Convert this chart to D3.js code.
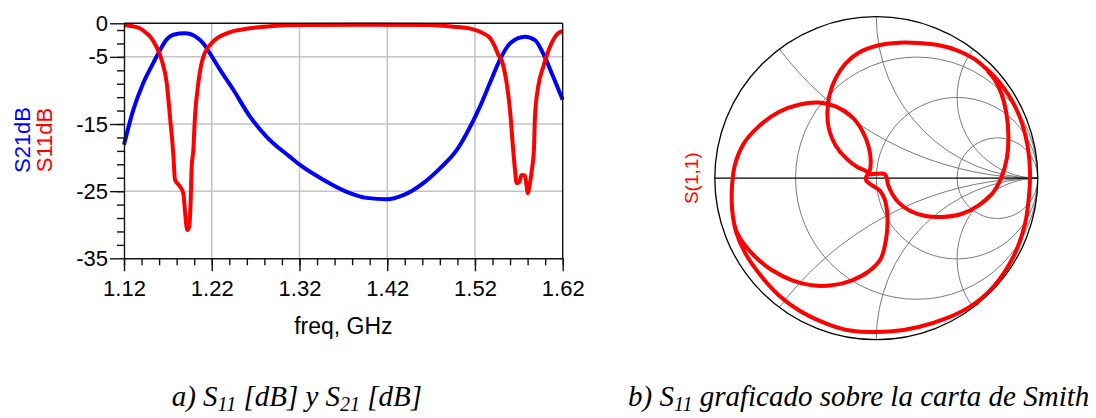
<!DOCTYPE html>
<html lang="es">
<head>
<meta charset="utf-8">
<title>S11 y S21</title>
<style>
  body { margin: 0; background: #fff; }
  svg { display: block; font-family: "Liberation Sans", Arial, sans-serif; }
  .axis text { font-size: 22px; fill: #000; font-family: "Liberation Sans", Arial, sans-serif; }
  .axis path, .axis line { stroke: #111; stroke-width: 1.4; }
  .grid line { stroke: #c4c4c4; stroke-width: 1.5; }
  .caption { font-family: "Liberation Serif", "Times New Roman", serif; font-style: italic; font-size: 29px; fill: #000; }
</style>
</head>
<body>
<svg width="1096" height="418"></svg>
<script src="https://d3js.org/d3.v7.min.js"></script>
<script>
// ---- data ----
var freqTicks = [1.12, 1.22, 1.32, 1.42, 1.52, 1.62];
var dbTicks = [0, -5, -15, -25, -35];

var s11Freq = [1.120, 1.130, 1.138, 1.145, 1.150, 1.157, 1.163, 1.1687, 1.1724, 1.1762,
               1.1781, 1.1838, 1.1876, 1.1894, 1.1921, 1.1944, 1.1960, 1.1971, 1.1990, 1.2009,
               1.2047, 1.2104, 1.2218, 1.2371, 1.2636, 1.290, 1.3206, 1.400, 1.4687, 1.4953,
               1.5181, 1.5295, 1.5371, 1.5428, 1.5466, 1.5504, 1.5561, 1.5599, 1.5636, 1.5656,
               1.5675, 1.5705, 1.5732, 1.5770, 1.5789, 1.5800, 1.5827, 1.5853, 1.5872, 1.5884,
               1.5921, 1.5978, 1.6055, 1.6131, 1.620];
var s11Db   = [-0.25, -0.45, -0.75, -1.4, -2.0, -3.5, -5.5, -8.9, -13.9, -19.5,
               -23.3, -24.3, -25.3, -27.8, -30.8, -30.3, -26.3, -21.5, -18.9, -13.9,
               -8.9, -5.0, -2.7, -1.5, -0.75, -0.4, -0.25, -0.2, -0.25, -0.5,
               -0.9, -1.5, -2.2, -3.5, -4.7, -5.5, -8.9, -12.9, -18.9, -21.8,
               -23.8, -23.6, -22.6, -22.7, -24.3, -25.3, -23.8, -21.4, -18.9, -13.9,
               -9.4, -6.5, -3.5, -1.7, -1.15];

var s21Freq = [1.12, 1.1306, 1.142, 1.1534, 1.161, 1.1687, 1.1762, 1.1895, 1.2028, 1.2104,
               1.218, 1.2294, 1.2446, 1.2636, 1.2826, 1.3092, 1.3206, 1.3471, 1.3738, 1.3966,
               1.4194, 1.4383, 1.4611, 1.4801, 1.4991, 1.5105, 1.5257, 1.537, 1.5485, 1.5599,
               1.577, 1.5884, 1.5978, 1.6074, 1.62];
var s21Db   = [-18.1, -12.9, -8.9, -5.9, -4.0, -2.4, -1.7, -1.5, -2.1, -3.0,
               -4.5, -6.9, -9.9, -13.9, -16.9, -19.9, -21.1, -23.3, -25.1, -26.0,
               -26.2, -25.6, -23.8, -21.6, -18.9, -16.4, -12.4, -8.9, -5.4, -3.0,
               -2.0, -2.5, -4.5, -7.4, -11.4];

// S11 on the Smith chart (reflection coefficient, real / imaginary)
var smithRe = [0.688, 0.729, 0.771, 0.804, 0.818, 0.808, 0.771, 0.717, 0.634, 0.531,
               0.407, 0.304, 0.211, 0.139, 0.098, 0.073, 0.065, 0.054, 0.005, -0.047,
               -0.063, -0.121, -0.191, -0.253, -0.294, -0.303, -0.290, -0.253, -0.191, -0.109,
               0.015, 0.139, 0.263, 0.387, 0.500, 0.604, 0.676, 0.727, 0.789, 0.851,
               0.903, 0.938, 0.952, 0.944, 0.919, 0.849, 0.725, 0.581, 0.428, 0.263,
               0.098, -0.047, -0.191, -0.336, -0.480, -0.604, -0.717, -0.810, -0.868, -0.893,
               -0.893, -0.876, -0.821, -0.728, -0.604, -0.480, -0.356, -0.253, -0.160, -0.088,
               -0.047, -0.034, -0.043, -0.063, -0.063, -0.026, 0.021, 0.052, 0.069, 0.061,
               0.026, -0.047, -0.150, -0.274, -0.398, -0.521, -0.645, -0.748, -0.821, -0.868,
               -0.889];
var smithIm = [0.666, 0.616, 0.534, 0.410, 0.265, 0.121, -0.003, -0.096, -0.168, -0.220,
               -0.240, -0.234, -0.203, -0.151, -0.096, -0.040, -0.003, 0.024, 0.028, 0.026,
               0.043, 0.071, 0.127, 0.204, 0.307, 0.410, 0.513, 0.616, 0.709, 0.777,
               0.823, 0.839, 0.837, 0.823, 0.792, 0.740, 0.682, 0.633, 0.559, 0.461,
               0.338, 0.193, 0.038, -0.127, -0.292, -0.486, -0.672, -0.795, -0.870, -0.921,
               -0.948, -0.952, -0.938, -0.890, -0.818, -0.725, -0.601, -0.467, -0.333, -0.189,
               -0.044, 0.080, 0.214, 0.321, 0.410, 0.455, 0.468, 0.445, 0.389, 0.296,
               0.193, 0.100, 0.038, 0.007, -0.013, -0.044, -0.075, -0.131, -0.234, -0.374,
               -0.502, -0.577, -0.632, -0.663, -0.663, -0.632, -0.570, -0.488, -0.405, -0.323,
               -0.230];

// Smith grid: constant resistance circles and constant reactance arcs
var resCircles = [1/3, 1, 3];
var reactArcs = [0.5, 1, 2];

var svg = d3.select("svg");

// ================= a) S11 / S21 in dB =================
var x = d3.scaleLinear().domain([1.12, 1.62]).range([124, 562.7]),
    y = d3.scaleLinear().domain([-35, 0]).range([258.3, 23.3]);

var g = svg.append("g");

var minorFreq = d3.range(0, 26).map(function(i) { return 1.12 + i * 0.02; });
var minorDb = d3.range(0, 17).map(function(i) { return -1 - i * 2; });

// grid
var grid = g.append("g").attr("class", "grid");
grid.selectAll(".gx").data(freqTicks.slice(1, -1)).enter().append("line")
  .attr("x1", function(d) { return x(d); }).attr("x2", function(d) { return x(d); })
  .attr("y1", y(0)).attr("y2", y(-35));
grid.selectAll(".gy").data([-5, -15, -25]).enter().append("line")
  .attr("x1", x(1.12)).attr("x2", x(1.62))
  .attr("y1", function(d) { return y(d); }).attr("y2", function(d) { return y(d); });

var line = d3.line()
  .x(function(d) { return x(d[0]); })
  .y(function(d) { return y(d[1]); })
  .curve(d3.curveMonotoneX);

g.append("path")
  .datum(d3.zip(s21Freq, s21Db))
  .attr("fill", "none").attr("stroke", "#0000ff").attr("stroke-width", 4)
  .attr("stroke-linejoin", "round")
  .attr("d", line);

g.append("path")
  .datum(d3.zip(s11Freq, s11Db))
  .attr("fill", "none").attr("stroke", "#ff0000").attr("stroke-width", 4)
  .attr("stroke-linejoin", "round")
  .attr("d", line);

// frame
g.append("line").attr("x1", x(1.12)).attr("x2", x(1.62)).attr("y1", y(0)).attr("y2", y(0))
  .attr("stroke", "#111").attr("stroke-width", 1.4);
g.append("line").attr("x1", x(1.62)).attr("x2", x(1.62)).attr("y1", y(0)).attr("y2", y(-35))
  .attr("stroke", "#111").attr("stroke-width", 1.4);

// axes
g.append("g").attr("class", "axis")
  .attr("transform", "translate(" + x(1.12) + ",0)")
  .call(d3.axisLeft(y).tickValues(minorDb).tickSize(7).tickFormat(""))
  .call(function(a) { a.select(".domain").remove(); });
g.append("g").attr("class", "axis")
  .attr("transform", "translate(" + x(1.12) + ",0)")
  .call(d3.axisLeft(y).tickValues(dbTicks).tickSize(14).tickSizeOuter(0).tickPadding(2)
    .tickFormat(function(d) { return String(d); }));

g.append("g").attr("class", "axis")
  .attr("transform", "translate(0," + y(-35) + ")")
  .call(d3.axisBottom(x).tickValues(minorFreq).tickSize(7).tickFormat(""))
  .call(function(a) { a.select(".domain").remove(); });
g.append("g").attr("class", "axis")
  .attr("transform", "translate(0," + y(-35) + ")")
  .call(d3.axisBottom(x).tickValues(freqTicks).tickSize(13).tickSizeOuter(0).tickPadding(8.7)
    .tickFormat(d3.format(".2f")));

g.append("text")
  .attr("x", (x(1.12) + x(1.62)) / 2).attr("y", 334)
  .attr("text-anchor", "middle").style("font-size", "23px")
  .text("freq, GHz");

g.append("text")
  .attr("transform", "translate(29.5,140) rotate(-90)")
  .attr("text-anchor", "middle").style("font-size", "22px").attr("fill", "#0000ff")
  .text("S21dB");
g.append("text")
  .attr("transform", "translate(52,140) rotate(-90)")
  .attr("text-anchor", "middle").style("font-size", "22px").attr("fill", "#ff0000")
  .text("S11dB");

// ================= b) Smith chart =================
var cx = 876.3, cy = 178.2, R = 161.5;
var sx = d3.scaleLinear().domain([-1, 1]).range([cx - R, cx + R]),
    sy = d3.scaleLinear().domain([-1, 1]).range([cy + R, cy - R]);

var sg = svg.append("g");
sg.append("clipPath").attr("id", "unit")
  .append("circle").attr("cx", sx(0)).attr("cy", sy(0)).attr("r", sx(1) - sx(0));

var sgrid = sg.append("g").attr("clip-path", "url(#unit)")
  .attr("fill", "none").attr("stroke", "#7a7a7a").attr("stroke-width", 1);

sgrid.selectAll(".rc").data(resCircles).enter().append("circle")
  .attr("cx", function(r) { return sx(r / (r + 1)); })
  .attr("cy", sy(0))
  .attr("r", function(r) { return sx(1 / (r + 1)) - sx(0); });

var arcs = [];
reactArcs.forEach(function(v) { arcs.push(v); arcs.push(-v); });
sgrid.selectAll(".xc").data(arcs).enter().append("circle")
  .attr("cx", sx(1))
  .attr("cy", function(v) { return sy(1 / v); })
  .attr("r", function(v) { return sx(1 / Math.abs(v)) - sx(0); });

sg.append("line")
  .attr("x1", sx(-1)).attr("x2", sx(1)).attr("y1", sy(0)).attr("y2", sy(0))
  .attr("stroke", "#000").attr("stroke-width", 1.2);
sg.append("circle")
  .attr("cx", sx(0)).attr("cy", sy(0)).attr("r", sx(1) - sx(0))
  .attr("fill", "none").attr("stroke", "#000").attr("stroke-width", 1.3);

var sline = d3.line()
  .x(function(d) { return sx(d[0]); })
  .y(function(d) { return sy(d[1]); })
  .curve(d3.curveCatmullRom.alpha(0.5));

sg.append("path")
  .datum(d3.zip(smithRe, smithIm))
  .attr("fill", "none").attr("stroke", "#ff0000").attr("stroke-width", 4)
  .attr("stroke-linejoin", "round")
  .attr("d", sline);

sg.append("text")
  .attr("transform", "translate(698," + sy(0) + ") rotate(-90)")
  .attr("text-anchor", "middle").style("font-size", "19px").attr("fill", "#ff0000")
  .text("S(1,1)");

// ================= captions =================
function caption(xp, parts) {
  var t = svg.append("text").attr("class", "caption").attr("x", xp).attr("y", 406);
  var shifted = false;
  parts.forEach(function(p) {
    if (p.sub) {
      t.append("tspan").attr("dy", 5).style("font-size", "20px").text(p.sub);
      shifted = true;
    } else {
      t.append("tspan").attr("dy", shifted ? -5 : 0).text(p.t);
      shifted = false;
    }
  });
}
caption(171.7, [{t: "a) S"}, {sub: "11"}, {t: " [dB] y S"}, {sub: "21"}, {t: " [dB]"}]);
caption(628, [{t: "b) S"}, {sub: "11"}, {t: " graficado sobre la carta de Smith"}]);
</script>
</body>
</html>
